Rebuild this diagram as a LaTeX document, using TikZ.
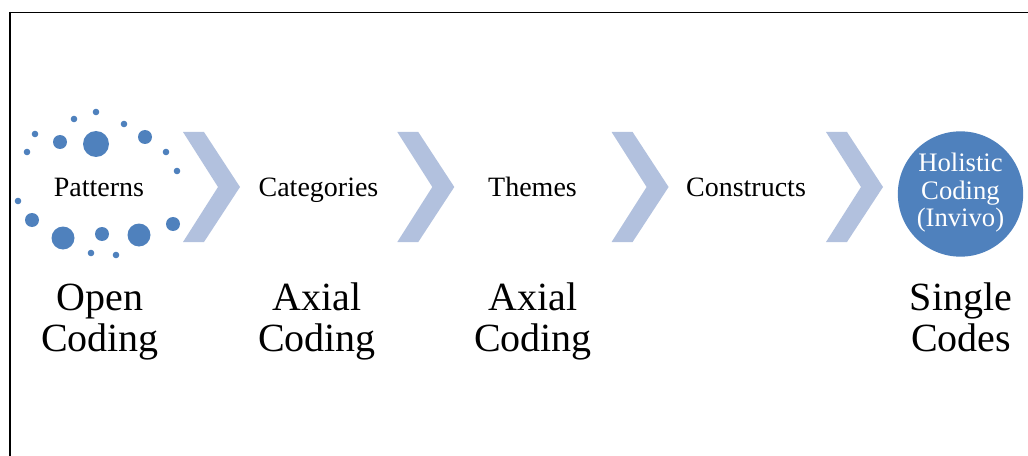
\documentclass[tikz,border=0pt]{standalone}
\usepackage{fontspec}
\setmainfont{Liberation Serif}
\definecolor{dotblue}{HTML}{4F81BD}
\definecolor{chevblue}{HTML}{B2C1DE}
\begin{document}
\begin{tikzpicture}[x=0.75pt,y=-0.75pt,
  steplabel/.style={inner sep=0pt,anchor=base,font=\fontsize{21}{25}\selectfont},
  biglabel/.style={inner sep=0pt,anchor=base,align=center,font=\fontsize{30}{30.75}\selectfont},
  chevron/.style={fill=chevblue},
  dot/.style={fill=dotblue},
  holistic/.style={circle,fill=dotblue,inner sep=0pt,minimum size=94pt},
  holtextstyle/.style={text=white,align=center,inner sep=0pt,anchor=base,font=\fontsize{20}{20.6}\selectfont}]
\useasboundingbox (0,0) rectangle (1028,456);
% frame
\draw[line width=1.1pt] (10,12.7) -- (1028,12.7);
\draw[line width=1.5pt] (10,12) -- (10,456);
% chevrons
\foreach \x in {183,397.3,611.6,826}{
  \fill[chevron] (\x,132) -- (\x+21,132) -- (\x+57,187) -- (\x+21,242) -- (\x,242) -- (\x+35,187) -- cycle;
}
% dots around Patterns
\foreach \px/\py/\r in {96/112/3.3, 74/119/3.3, 124/124/3.3, 35/134/3.3, 60/142/7, 96/144/13,
  145/137/7, 27/152/3.3, 166/152/3.3, 177/171/3.3, 18/201/3.3, 32/220/7, 173/224/7,
  63/238/11.5, 102/234/7, 139/235/11.5, 91/253/3.3, 116/255/3.3}{
  \fill[dot] (\px,\py) circle[radius=\r];
}
% step labels
\node[steplabel] (patterns) at (99,196) {Patterns};
\node[steplabel] (categories) at (318.5,196) {Categories};
\node[steplabel] (themes) at (532.5,196) {Themes};
\node[steplabel] (constructs) at (746,196) {Constructs};
\node[holistic] (holistic) at (960.5,194) {};
\node[holtextstyle] (holtext) at (960.5,226.5) {Holistic\\Coding\\(Invivo)};
% lower labels
\node[biglabel] (open) at (100,351) {Open\\Coding};
\node[biglabel] (axial1) at (317,351) {Axial\\Coding};
\node[biglabel] (axial2) at (533,351) {Axial\\Coding};
\node[biglabel] (single) at (961,351) {Single\\Codes};
\end{tikzpicture}
\end{document}
